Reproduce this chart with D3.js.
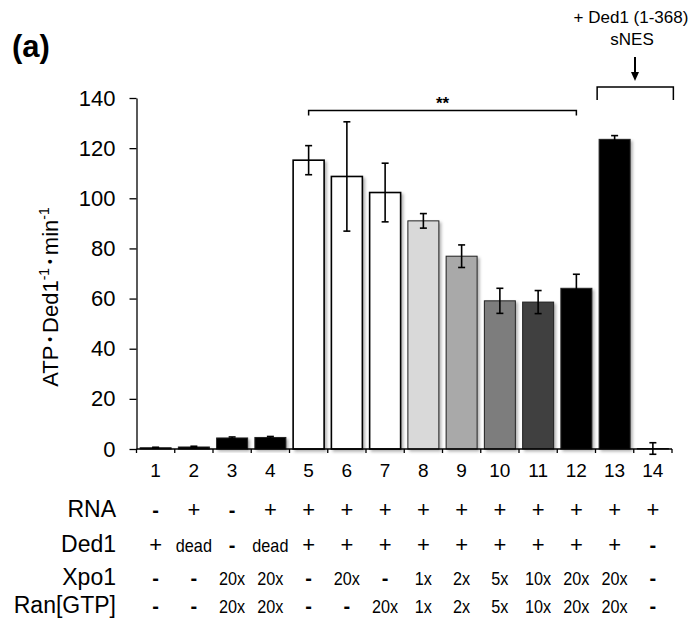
<!DOCTYPE html>
<html><head><meta charset="utf-8">
<script src="https://cdn.jsdelivr.net/npm/d3@7"></script>
<style>
html,body{margin:0;padding:0;background:#fff;}
text{font-family:"Liberation Sans",Arial,sans-serif;fill:#000;}
</style></head>
<body>
<svg id="chart" width="697" height="623"></svg>
<script>
const categories = ["1","2","3","4","5","6","7","8","9","10","11","12","13","14"];
const values = [0.5, 0.8, 4.4, 4.6, 115.2, 108.7, 102.3, 91.0, 76.9, 59.1, 58.6, 64.1, 123.5, 0.2];
const errors = [0.2, 0.3, 0.4, 0.4, 5.8, 21.8, 11.7, 2.9, 4.5, 5.0, 4.6, 5.6, 1.5, 2.3];
const yTicks = [0, 20, 40, 60, 80, 100, 120, 140];
const rowLabels = ["RNA", "Ded1", "Xpo1", "Ran[GTP]"];
const rnaRow  = ["-","+","-","+","+","+","+","+","+","+","+","+","+","+"];
const ded1Row = ["+","dead","-","dead","+","+","+","+","+","+","+","+","+","-"];
const xpo1Row = ["-","-","20x","20x","-","20x","-","1x","2x","5x","10x","20x","20x","-"];
const ranRow  = ["-","-","20x","20x","-","-","20x","1x","2x","5x","10x","20x","20x","-"];
const barColors = ["#000","#000","#000","#000","#fff","#fff","#fff","#d9d9d9","#a9a9a9","#7d7d7d","#404040","#000","#000","#777"];

const svg = d3.select("#chart");
const defs = svg.append("defs");
const f = defs.append("filter").attr("id","shadow").attr("x","-20%").attr("y","-20%").attr("width","150%").attr("height","150%");
f.append("feDropShadow").attr("dx",2).attr("dy",2).attr("stdDeviation",1.5).attr("flood-color","#000").attr("flood-opacity",0.3);

const x = d3.scaleBand().domain(categories).range([136.5, 672]).paddingInner(0.19).paddingOuter(0.095);
const y = d3.scaleLinear().domain([0, 140]).range([449, 98]);

// bars
svg.append("g").selectAll("rect").data(categories).join("rect")
  .attr("x", d => x(d))
  .attr("y", (d,i) => y(values[i]))
  .attr("width", x.bandwidth())
  .attr("height", (d,i) => y(0) - y(values[i]))
  .attr("fill", (d,i) => barColors[i])
  .attr("stroke", (d,i) => i>=4 && i<=6 ? "#000" : "#222")
  .attr("stroke-width", (d,i) => i>=4 && i<=6 ? 1.6 : 1)
  .attr("filter", "url(#shadow)");

// error bars
const eg = svg.append("g").attr("stroke","#000").attr("stroke-width",1.6);
categories.forEach((c,i) => {
  const cx = x(c) + x.bandwidth()/2;
  const lo = Math.max(values[i]-errors[i], -2.6), hi = values[i]+errors[i];
  eg.append("line").attr("x1",cx).attr("x2",cx).attr("y1",y(lo)).attr("y2",y(hi));
  eg.append("line").attr("x1",cx-3.5).attr("x2",cx+3.5).attr("y1",y(hi)).attr("y2",y(hi));
  eg.append("line").attr("x1",cx-3.5).attr("x2",cx+3.5).attr("y1",y(lo)).attr("y2",y(lo));
});

// y axis
const yAxis = svg.append("g").attr("transform","translate(136.5,0)")
  .call(d3.axisLeft(y).tickValues(yTicks).tickSize(7).tickSizeOuter(0).tickPadding(14));
yAxis.selectAll("text").style("font-size","22px");
yAxis.selectAll("path,line").attr("stroke","#000").attr("stroke-width",1.3);

// x axis
const xAxisG = svg.append("g").attr("transform","translate(0,449)");
xAxisG.append("line").attr("x1",136.5).attr("x2",672).attr("y1",0).attr("y2",0).attr("stroke","#000").attr("stroke-width",1.3);
const step = x.step();
d3.range(15).forEach(k => {
  const xx = 136.5 + k*step;
  xAxisG.append("line").attr("x1",xx).attr("x2",xx).attr("y1",0).attr("y2",4).attr("stroke","#000").attr("stroke-width",1.3);
});
xAxisG.selectAll("text.cat").data(categories).join("text").attr("class","cat")
  .attr("x", d => x(d)+x.bandwidth()/2).attr("y", 28)
  .attr("text-anchor","middle").style("font-size","19px").text(d => d);

// y label
svg.append("text")
  .attr("transform","translate(58,297) rotate(-90)")
  .attr("text-anchor","middle").style("font-size","22px")
  .html('ATP<tspan style="font-size:14px" dy="-3"> • </tspan><tspan dy="3">Ded1</tspan><tspan dy="-9" style="font-size:14px">-1</tspan><tspan style="font-size:14px" dy="6"> • </tspan><tspan dy="3">min</tspan><tspan dy="-9" style="font-size:14px">-1</tspan>');

// panel label
svg.append("text").attr("x",12).attr("y",57).style("font-size","31px").style("font-weight","bold").text("(a)");

// significance bracket
const c5 = x("5")+x.bandwidth()/2, c12 = x("12")+x.bandwidth()/2;
svg.append("path").attr("d",`M${c5},${y(133)}V${y(135)}H${c12}V${y(133)}`)
  .attr("fill","none").attr("stroke","#000").attr("stroke-width",1.5);
svg.append("text").attr("x",(c5+c12)/2 + 0).attr("y",y(135)-2).attr("text-anchor","middle")
  .style("font-size","17px").style("font-weight","bold").text("**");

// sNES bracket
const b1 = x("13")-2, b2 = x("14")+x.bandwidth()+5;
svg.append("path").attr("d",`M${b1},${y(139.2)}V${y(144.4)}H${b2}V${y(139.2)}`)
  .attr("fill","none").attr("stroke","#000").attr("stroke-width",1.5);
const ax = 635;
svg.append("line").attr("x1",ax).attr("x2",ax).attr("y1",57).attr("y2",74).attr("stroke","#000").attr("stroke-width",2);
svg.append("path").attr("d",`M${ax-4},72L${ax+4},72L${ax},81Z`).attr("fill","#000");
svg.append("text").attr("x",631).attr("y",23).attr("text-anchor","middle").style("font-size","17px").text("+ Ded1 (1-368)");
svg.append("text").attr("x",632).attr("y",45).attr("text-anchor","middle").style("font-size","17px").text("sNES");

// table
const rows = [rnaRow, ded1Row, xpo1Row, ranRow];
const rowY = [517, 552, 585, 613];
rows.forEach((row, r) => {
  svg.append("text").attr("x",116).attr("y",rowY[r]).attr("text-anchor","end").style("font-size","23px").text(rowLabels[r]);
  row.forEach((v, i) => {
    const cx = x(categories[i]) + x.bandwidth()/2;
    const t = svg.append("text").attr("y", rowY[r]).attr("text-anchor","middle");
    if (v === "-") {
      t.attr("x",cx).style("font-size","20px").style("font-weight","bold").text("-");
    } else if (v === "+") {
      t.attr("x",cx).style("font-size","22px").text("+");
    } else {
      t.attr("transform",`translate(${cx},0) scale(0.9,1)`).style("font-size","18px").text(v);
    }
  });
});
</script>
</body></html>
